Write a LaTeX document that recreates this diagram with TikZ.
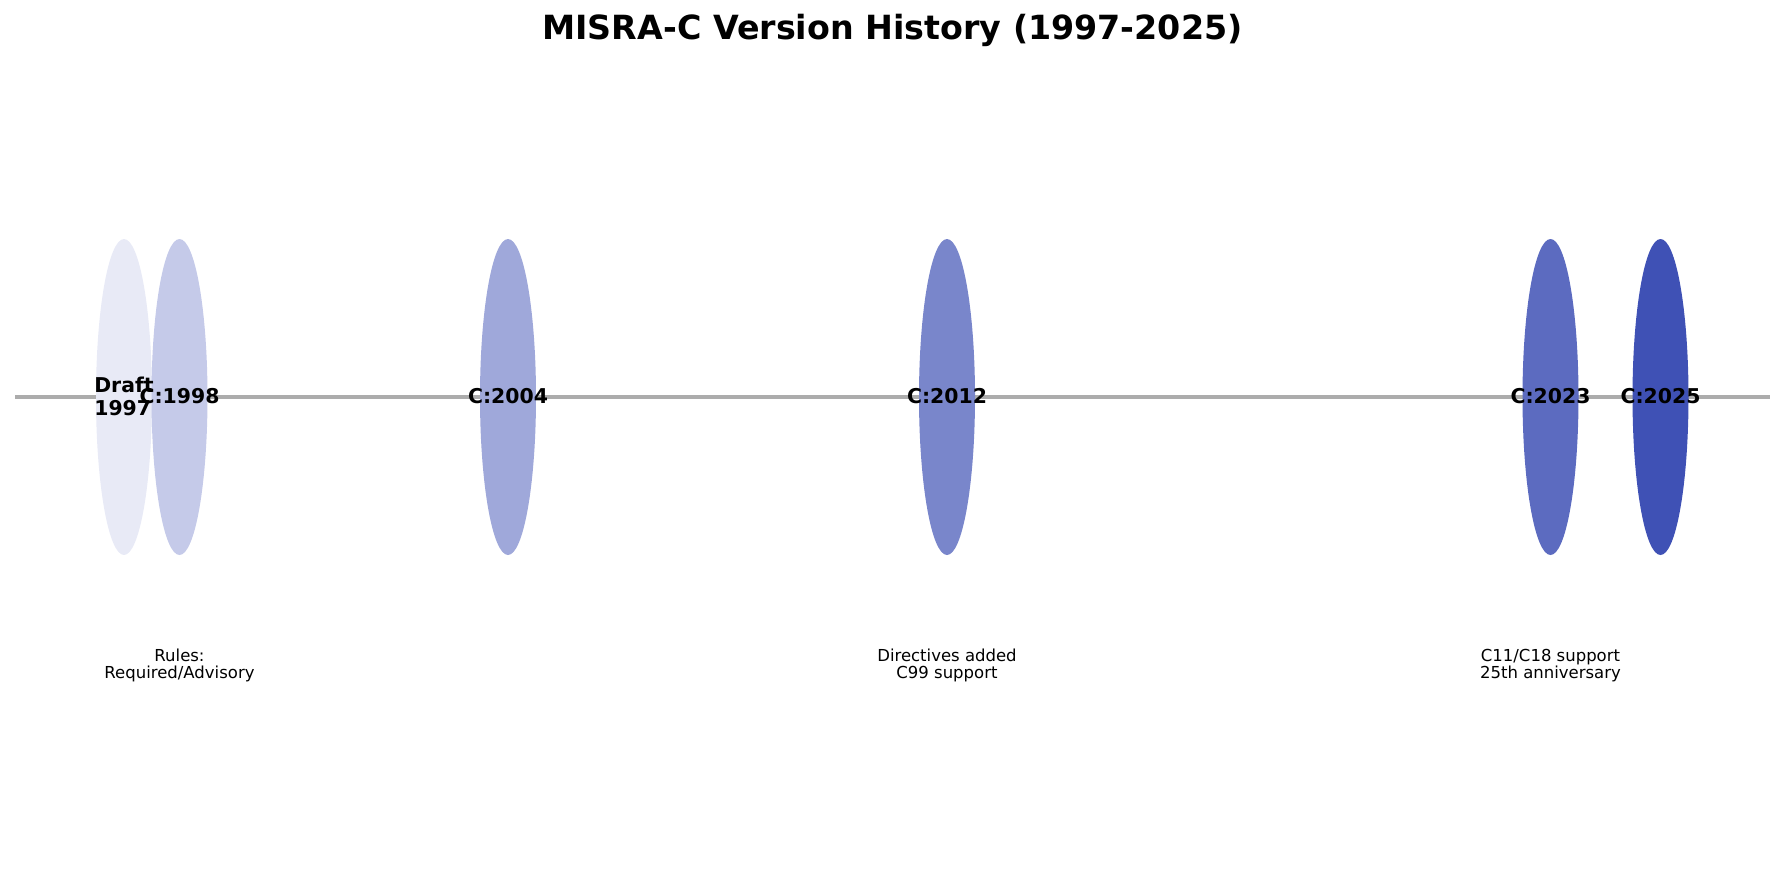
\documentclass[tikz,border=0pt]{standalone}
\usepackage{fontspec}
\setmainfont{DejaVu Sans}
\usetikzlibrary{shapes.geometric}
\definecolor{c1997}{HTML}{E8EAF6}
\definecolor{c1998}{HTML}{C5CAE9}
\definecolor{c2004}{HTML}{9FA8DA}
\definecolor{c2012}{HTML}{7986CB}
\definecolor{c2023}{HTML}{5C6BC0}
\definecolor{c2025}{HTML}{3F51B5}
\definecolor{axisgray}{RGB}{172,172,172}
\tikzset{
  release/.style={ellipse, minimum width=56pt, minimum height=316pt, inner sep=0pt, draw=none},
  vlabel/.style={font=\fontsize{20.4}{23}\selectfont\bfseries, inner sep=0pt, align=center},
  note/.style={font=\fontsize{16.5}{16.5}\selectfont, inner sep=0pt, align=center},
  titlestyle/.style={font=\fontsize{33.3}{40}\selectfont\bfseries, inner sep=0pt}
}
\begin{document}
\begin{tikzpicture}[x=1pt,y=-1pt]
\useasboundingbox (0,0) rectangle (1785,884);
\node[titlestyle] (title) at (892.5,30) {MISRA-C Version History (1997-2025)};
\coordinate (lstart) at (15,397);
\coordinate (lend) at (1770,397);
\draw[axisgray, line width=4pt] (lstart) -- (lend);
\node[release, fill=c1997] (e1997) at (124,397) {};
\node[release, fill=c1998] (e1998) at (179.5,397) {};
\node[release, fill=c2004] (e2004) at (508,397) {};
\node[release, fill=c2012] (e2012) at (947,397) {};
\node[release, fill=c2023] (e2023) at (1550.5,397) {};
\node[release, fill=c2025] (e2025) at (1660.5,397) {};
\node[vlabel, align=left] (l1997) at (124,396) {Draft\\1997};
\node[vlabel] (l1998) at (179.5,396) {C:1998};
\node[vlabel] (l2004) at (508,396) {C:2004};
\node[vlabel] (l2012) at (947,396) {C:2012};
\node[vlabel] (l2023) at (1550.5,396) {C:2023};
\node[vlabel] (l2025) at (1660.5,396) {C:2025};
\node[note] (n1998) at (179.5,665.5) {Rules:\\Required/Advisory};
\node[note] (n2012) at (947,665.5) {Directives added\\C99 support};
\node[note] (n2023) at (1550.5,665.5) {C11/C18 support\\25th anniversary};
\end{tikzpicture}
\end{document}
